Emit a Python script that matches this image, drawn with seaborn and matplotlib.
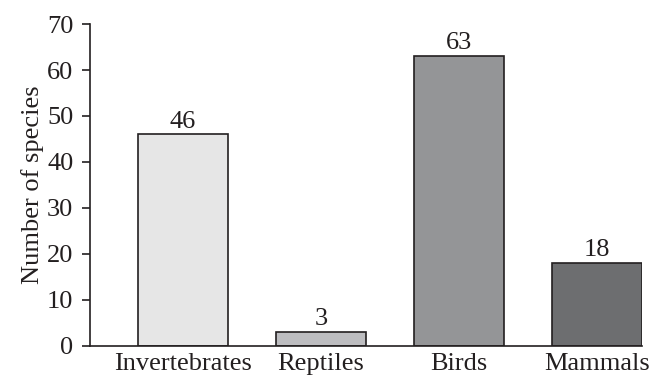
import matplotlib
matplotlib.use('Agg')
import matplotlib.pyplot as plt
import seaborn as sns
import pandas as pd

# data
groups = ['Invertebrates', 'Reptiles', 'Birds', 'Mammals']
species = [46, 3, 63, 18]
bar_colors = ['#e6e6e6', '#bcbdc0', '#939598', '#6d6e70']

sns.set_style('ticks')
plt.rcParams['font.family'] = ['Liberation Serif', 'DejaVu Serif']

df = pd.DataFrame({'group': groups, 'n': species})

fig = plt.figure(figsize=(6.5, 3.78), dpi=100)
ax = fig.add_axes([0.1385, 0.0847, 0.8492, 0.8518])
sns.barplot(data=df, x='group', y='n', hue='group', palette=bar_colors,
            width=0.65, edgecolor='#231f20', linewidth=1.2, legend=False, ax=ax)

for i, v in enumerate(species):
    ax.text(i, v + 0.4, str(v), ha='center', va='bottom', fontsize=19, color='#231f20')

ax.set_xlim(-0.67, 3.325)
ax.set_ylim(0, 70)
ax.set_yticks(range(0, 71, 10))
ax.set_xlabel('')
ax.set_ylabel('Number of species', fontsize=19, color='#231f20', labelpad=2)
ax.tick_params(axis='y', labelsize=19, colors='#231f20', length=6, width=1.2, direction='out', pad=6)
ax.tick_params(axis='x', labelsize=19, colors='#231f20', length=0, pad=5)
for s in ['top', 'right']:
    ax.spines[s].set_visible(False)
for s in ['left', 'bottom']:
    ax.spines[s].set_color('#231f20')
    ax.spines[s].set_linewidth(1.2)

fig.savefig('out.png', dpi=100)
